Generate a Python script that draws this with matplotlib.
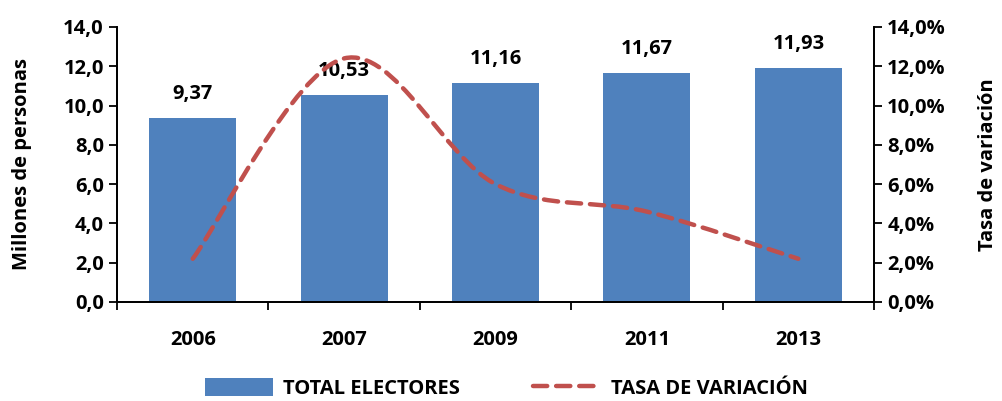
import numpy as np
import matplotlib.pyplot as plt
from matplotlib.path import Path
from matplotlib.patches import PathPatch, Patch
from matplotlib.lines import Line2D
from matplotlib.ticker import FuncFormatter

# --- Data ---
YEARS = ["2006", "2007", "2009", "2011", "2013"]
ELECTORES = [9.37, 10.53, 11.16, 11.67, 11.93]      # millones de personas
TASA = [2.2, 12.4, 6.0, 4.6, 2.2]                   # tasa de variacion (%)

BAR_COLOR = "#4F81BD"
LINE_COLOR = "#C0504D"
FS = 14.5

plt.rcParams['font.family'] = ['Open Sans', 'DejaVu Sans']
plt.rcParams['font.weight'] = 'bold'


def smooth_path(xs, ys):
    """Excel-like smoothed line: cubic Bezier through the points."""
    pts = np.column_stack([xs, ys]).astype(float)
    n = len(pts)
    verts = [pts[0]]
    codes = [Path.MOVETO]
    for i in range(n - 1):
        p_prev = pts[i - 1] if i > 0 else pts[i]
        p_next2 = pts[i + 2] if i + 2 < n else pts[i + 1]
        c1 = pts[i] + (pts[i + 1] - p_prev) / 6.0
        c2 = pts[i + 1] - (p_next2 - pts[i]) / 6.0
        verts += [c1, c2, pts[i + 1]]
        codes += [Path.CURVE4] * 3
    return Path(verts, codes)


fig = plt.figure(figsize=(10.03, 4.01), dpi=100)
ax = fig.add_axes([0.1167, 0.2469, 0.7547, 0.6858])
ax2 = ax.twinx()

x = np.arange(len(YEARS))
ax.bar(x, ELECTORES, width=0.575, color=BAR_COLOR, zorder=2)
for xi, v in zip(x, ELECTORES):
    ax.text(xi, v + 0.7, f"{v:.2f}".replace(".", ","), ha="center", va="bottom",
            fontsize=FS, fontweight="bold", zorder=10)

ax.set_xlim(-0.5, len(YEARS) - 0.5)
ax.set_ylim(0, 14)
ax.set_yticks(np.arange(0, 14.1, 2))
ax.yaxis.set_major_formatter(FuncFormatter(lambda v, p: f"{v:.1f}".replace(".", ",")))
ax.set_xticks(x)
ax.set_xticklabels(YEARS)
ax.set_xticks(np.arange(-0.5, len(YEARS), 1), minor=True)
ax.tick_params(axis="x", which="major", length=0, pad=20, labelsize=FS)
ax.tick_params(axis="x", which="minor", length=6, width=1.3, direction="out")
ax.tick_params(axis="y", length=6, width=1.3, labelsize=FS)
ax.set_ylabel("Millones de personas", fontsize=FS, fontweight="bold")
ax.yaxis.set_label_coords(-0.112, 0.5)

ax2.set_ylim(0, 14)
ax2.set_yticks(np.arange(0, 14.1, 2))
ax2.yaxis.set_major_formatter(FuncFormatter(lambda v, p: f"{v:.1f}".replace(".", ",") + "%"))
ax2.tick_params(axis="y", length=6, width=1.3, labelsize=FS)
ax2.set_ylabel("Tasa de variación", fontsize=FS, fontweight="bold")
ax2.yaxis.set_label_coords(1.138, 0.5)

for a in (ax, ax2):
    a.spines["top"].set_visible(False)
    for s in ("left", "right", "bottom"):
        a.spines[s].set_linewidth(1.3)

line = PathPatch(smooth_path(x, TASA), facecolor="none", edgecolor=LINE_COLOR,
                 linewidth=3.2, linestyle=(0, (3.2, 2.0)), capstyle="round", zorder=3)
ax2.add_patch(line)

handles = [Patch(facecolor=BAR_COLOR, label="TOTAL ELECTORES"),
           Line2D([], [], color=LINE_COLOR, linewidth=3.2, linestyle=(0, (3.2, 2.0)),
                  dash_capstyle="round", label="TASA DE VARIACIÓN")]
fig.legend(handles=handles, loc="lower center", bbox_to_anchor=(0.505, -0.04), ncol=2,
           frameon=False, fontsize=FS, handlelength=3.4, handleheight=1.0,
           columnspacing=3.6, handletextpad=0.5)

fig.savefig("out.png", dpi=100)
